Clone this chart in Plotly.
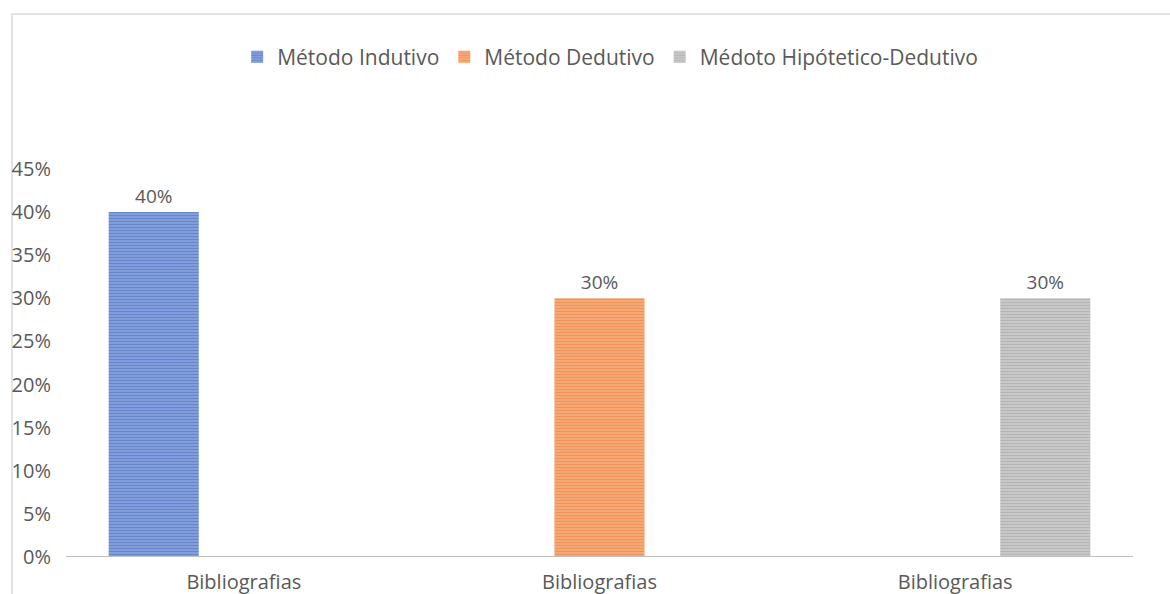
import plotly.graph_objects as go

categories = ["Bibliografias", "Bibliografias", "Bibliografias"]
series_names = ["Método Indutivo", "Método Dedutivo", "Médoto Hipótetico-Dedutivo"]
indutivo = [0.40, None, None]
dedutivo = [None, 0.30, None]
hipotetico = [None, None, 0.30]
y_ticks = [0, 0.05, 0.10, 0.15, 0.20, 0.25, 0.30, 0.35, 0.40, 0.45]

colors = ["#3860B8", "#EC7328", "#999999"]
light = ["#93ACE2", "#F7B48A", "#D2D2D2"]

W, H = 1170, 594
L, R, T, B = 66, 37, 169, 37
pw, ph = W - L - R, H - T - B
FONT = "Open Sans"

fig = go.Figure()
xs = list(range(len(categories)))
for name, vals, c, lc in zip(series_names, [indutivo, dedutivo, hipotetico], colors, light):
    fig.add_trace(go.Bar(
        x=xs, y=vals, name=name,
        marker=dict(color=lc, line=dict(width=0),
                    pattern=dict(shape="-", fgcolor=c, size=3, solidity=0.6, fillmode="overlay")),
        texttemplate="%{y:.0%}", textposition="outside", cliponaxis=False,
        textfont=dict(color="#595959", size=19),
    ))

fig.update_layout(
    width=W, height=H,
    margin=dict(l=L, r=R, t=T, b=B, autoexpand=False),
    paper_bgcolor="white", plot_bgcolor="white",
    barmode="group", bargap=0.24, bargroupgap=0,
    font=dict(family=FONT, color="#595959", size=20),
    showlegend=True,
    legend=dict(orientation="h", x=0.51, xanchor="center",
                y=(H - B - 57) / ph, yanchor="middle",
                font=dict(size=21, color="#595959"), itemwidth=30,
                tracegroupgap=0, traceorder="normal"),
    xaxis=dict(range=[-0.5, 2.5], tickvals=xs, ticktext=categories, automargin=False,
               showgrid=False, zeroline=False, showline=False, ticks="",
               ticklabelstandoff=11, tickfont=dict(size=20, color="#595959")),
    yaxis=dict(range=[0, 0.45], tickvals=y_ticks, tickformat=".0%", automargin=False,
               showgrid=False, zeroline=False, showline=False, ticks="",
               ticklabelstandoff=14, tickfont=dict(size=20, color="#595959")),
    shapes=[
        dict(type="line", xref="paper", yref="y", x0=0, x1=1, y0=0, y1=0,
             line=dict(color="#BFBFBF", width=2)),
        dict(type="rect", xref="paper", yref="paper",
             x0=(12 - L) / pw, x1=(W + 20 - L) / pw,
             y0=(H - B - (H + 20)) / ph, y1=(H - B - 14) / ph,
             line=dict(color="#E3E3E3", width=2), fillcolor="rgba(0,0,0,0)", layer="below"),
    ],
)

fig.write_html("out.html")
